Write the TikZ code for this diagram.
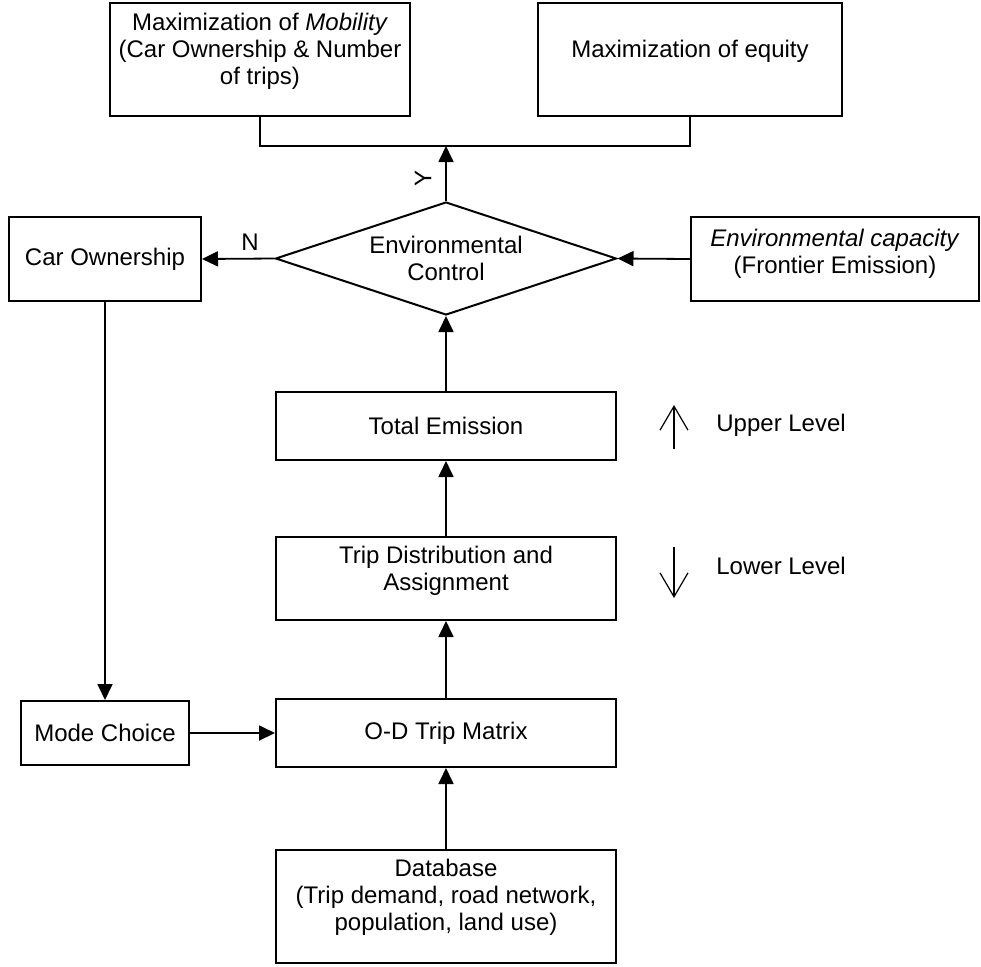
\documentclass[tikz,border=0pt]{standalone}
\usepackage{fontspec}
\setmainfont{Liberation Sans}
\usepackage{tikz}
\usetikzlibrary{shapes.geometric,arrows.meta}

\tikzset{
  box/.style = {draw, line width=1pt, rectangle, align=center, inner sep=0pt},
  flow/.style = {-{Triangle[length=8pt,width=7.5pt]}, line width=0.9pt},
  lev/.style = {-{Straight Barb[length=12pt,width=14pt]}, line width=0.6pt},
}

\begin{document}
\begin{tikzpicture}[x=0.5pt, y=-0.5pt, font=\fontsize{12}{13.5}\selectfont]
\useasboundingbox (0,0) rectangle (981,966);

% goals at the top
\node[box, minimum width=150pt, minimum height=56.5pt] (mob) at (260,59.5)
  {Maximization of \textit{Mobility}\\(Car Ownership \& Number\\of trips)\\[-3pt]\mbox{}};
\node[box, minimum width=152pt, minimum height=56.5pt] (eq) at (690,59.5)
  {Maximization of equity\\[-3pt]\mbox{}};

% upper level
\node[box, minimum width=96pt, minimum height=42pt] (car) at (105,259) {Car Ownership};
\node[draw, line width=1pt, diamond, aspect=3, inner sep=0pt, align=center,
      minimum width=170.5pt, minimum height=56.5pt] (ctrl) at (446,258.5)
  {Environmental\\Control};
\node[box, minimum width=144pt, minimum height=42pt] (env) at (835,259)
  {\textit{Environmental capacity}\\(Frontier Emission)\\[-6pt]\mbox{}};
\node[box, minimum width=170pt, minimum height=34pt] (tot) at (446,426) {Total Emission};

% lower level
\node[box, minimum width=170pt, minimum height=41.5pt] (tda) at (446,578.5)
  {Trip Distribution and\\Assignment\\[-3.5pt]\mbox{}};
\node[box, minimum width=170pt, minimum height=34pt] (od) at (446,733) {O-D Trip Matrix};
\node[box, minimum width=84pt, minimum height=32pt] (mode) at (105,733) {Mode Choice};
\node[box, minimum width=170pt, minimum height=56.5pt] (db) at (446,906.5)
  {Database\\(Trip demand, road network,\\population, land use)\\[-2pt]\mbox{}};

% labels
\node[rotate=90, inner sep=0pt] (ylab) at (423,178) {Y};
\node[inner sep=0pt] (nlab) at (250,242) {N};
\node[anchor=west, inner sep=0pt] (upper) at (716,425) {Upper Level};
\node[anchor=west, inner sep=0pt] (lower) at (716,566) {Lower Level};

\coordinate (join) at (446,146);
\coordinate (upA) at (674,449);
\coordinate (upB) at (674,405);
\coordinate (dnA) at (674,547);
\coordinate (dnB) at (674,598);

% connectors
\draw[line width=0.9pt] (mob.south) |- (join) -| (eq.south);
\draw[flow] (ctrl.north) -- (join);
\draw[flow] (ctrl.west) -- (car.east);
\draw[flow] (env.west) -- (ctrl.east);
\draw[flow] (tot.north) -- (ctrl.south);
\draw[flow] (tda.north) -- (tot.south);
\draw[flow] (od.north) -- (tda.south);
\draw[flow] (db.north) -- (od.south);
\draw[flow] (mode.east) -- (od.west);
\draw[flow] (car.south) -- (mode.north);

\draw[lev] (upA) -- (upB);
\draw[lev] (dnA) -- (dnB);
\end{tikzpicture}
\end{document}
